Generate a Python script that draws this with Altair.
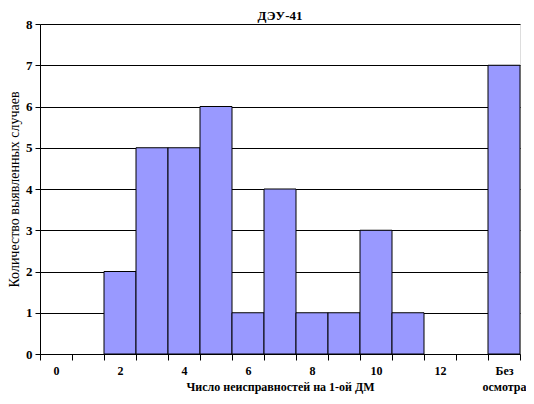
import altair as alt
import pandas as pd

categories = ["0", "1", "2", "3", "4", "5", "6", "7", "8", "9", "10", "11", "12", "13", "Без осмотра"]
counts = [0, 0, 2, 5, 5, 6, 1, 4, 1, 1, 3, 1, 0, 0, 7]

df = pd.DataFrame({"cat": categories, "n": counts})

FONT = "'Liberation Serif', 'Times New Roman', serif"

chart = alt.Chart(df).mark_bar(
    color="#9999FF", stroke="black", strokeWidth=1
).encode(
    x=alt.X(
        "cat:N",
        sort=categories,
        scale=alt.Scale(paddingInner=0, paddingOuter=0),
        axis=alt.Axis(
            title="Число неисправностей на 1-ой ДМ",
            titleFont=FONT, titleFontSize=12, titleFontWeight="bold",
            titleColor="black", titleY=36, titleBaseline="alphabetic",
            labelFont=FONT, labelFontSize=12, labelFontWeight="bold",
            labelColor="black", labelAngle=0, labelPadding=5,
            labelOverlap=False, labelFlush=False, labelLineHeight=16,
            labelExpr="datum.value == 'Без осмотра' ? ['Без', 'осмотра'] : (toNumber(datum.value) % 2 == 0 ? datum.value : '')",
            tickBand="extent", tickColor="black", tickSize=6,
            domainColor="black", grid=False,
        ),
    ),
    y=alt.Y(
        "n:Q",
        scale=alt.Scale(domain=[0, 8]),
        axis=alt.Axis(
            title="Количество выявленных случаев",
            titleFont=FONT, titleFontSize=14, titleFontWeight="normal",
            titleColor="black", titlePadding=4,
            labelFont=FONT, labelFontSize=13, labelFontWeight="bold",
            labelColor="black", labelPadding=3,
            values=[0, 1, 2, 3, 4, 5, 6, 7, 8],
            tickColor="black", tickSize=5,
            domainColor="black",
            grid=True, gridColor="black", gridOpacity=1, gridWidth=1,
        ),
    ),
    strokeOpacity=alt.condition("datum.n > 0", alt.value(1), alt.value(0)),
).properties(
    width=480,
    height=330,
    title=alt.Title("ДЭУ-41", font=FONT, fontSize=13, fontWeight="bold",
                    color="black", offset=3, dy=8),
    autosize=alt.AutoSizeParams(type="none"),
    padding={"left": 32, "top": 16, "right": 6, "bottom": 40},
).configure_view(
    stroke="black", strokeWidth=1
).configure(background="white")

chart.save("out.html", embed_options={"renderer": "svg", "actions": False})
